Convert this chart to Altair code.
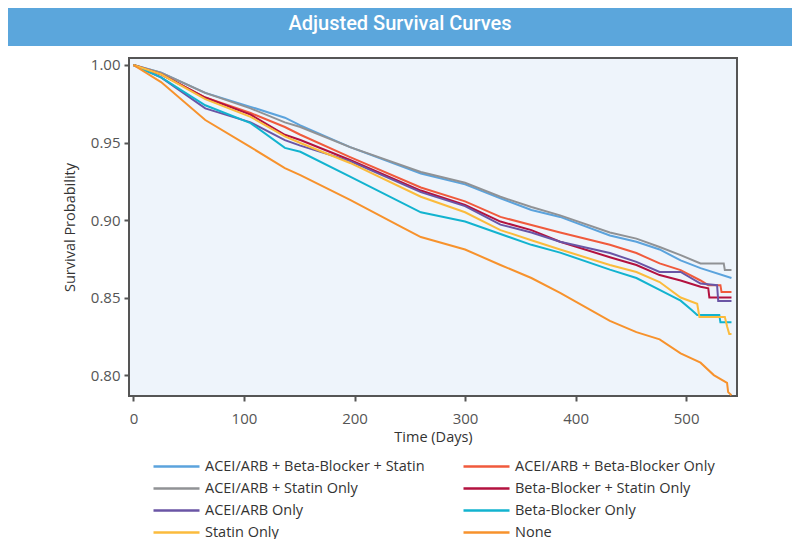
import altair as alt
import pandas as pd

TITLE = "Adjusted Survival Curves"
SERIES = [
    "ACEI/ARB + Beta-Blocker + Statin",
    "ACEI/ARB + Beta-Blocker Only",
    "ACEI/ARB + Statin Only",
    "Beta-Blocker + Statin Only",
    "ACEI/ARB Only",
    "Beta-Blocker Only",
    "Statin Only",
    "None",
]
COLORS = ["#5ba3dd", "#f05a3c", "#909295", "#b3123f", "#6a55a5", "#12b3cf", "#fbbb3c", "#f7922c"]

X_TICKS = [0, 100, 200, 300, 400, 500]
Y_TICKS = [0.80, 0.85, 0.90, 0.95, 1.00]

days_abs = [0, 25, 65, 106, 137, 151, 196, 260, 300, 332, 360, 386, 431, 455, 476, 495, 513, 541]
surv_abs = [1.0, 0.995, 0.982, 0.973, 0.966, 0.961, 0.947, 0.930, 0.923, 0.914, 0.9065, 0.902, 0.890, 0.886, 0.881, 0.874, 0.869, 0.8626]

days_ab = [0, 25, 65, 106, 137, 151, 196, 260, 300, 332, 360, 386, 431, 455, 476, 495, 513, 520, 531, 532, 541]
surv_ab = [1.0, 0.994, 0.979, 0.969, 0.960, 0.955, 0.9406, 0.921, 0.912, 0.902, 0.8968, 0.892, 0.884, 0.8787, 0.872, 0.8677, 0.861, 0.858, 0.858, 0.8535, 0.8535]

days_as = [0, 25, 65, 106, 137, 151, 196, 260, 300, 332, 360, 386, 431, 455, 476, 495, 513, 534, 535, 541]
surv_as = [1.0, 0.995, 0.982, 0.972, 0.963, 0.960, 0.947, 0.931, 0.924, 0.915, 0.9084, 0.903, 0.892, 0.888, 0.8826, 0.8774, 0.872, 0.872, 0.8677, 0.8677]

days_bs = [0, 25, 65, 106, 137, 151, 196, 260, 300, 332, 360, 386, 431, 455, 476, 495, 513, 520, 521, 541]
surv_bs = [1.0, 0.994, 0.979, 0.968, 0.955, 0.9516, 0.9387, 0.919, 0.9097, 0.899, 0.8935, 0.886, 0.876, 0.871, 0.8645, 0.861, 0.857, 0.856, 0.850, 0.850]

days_a = [0, 25, 65, 106, 137, 151, 196, 260, 300, 332, 360, 386, 431, 455, 476, 495, 513, 528, 529, 541]
surv_a = [1.0, 0.992, 0.972, 0.963, 0.9515, 0.948, 0.938, 0.918, 0.909, 0.897, 0.892, 0.886, 0.8787, 0.873, 0.8665, 0.8665, 0.859, 0.858, 0.8477, 0.8477]

days_b = [0, 25, 65, 106, 137, 151, 196, 260, 300, 332, 360, 386, 431, 455, 476, 495, 505, 510, 530, 531, 541]
surv_b = [1.0, 0.992, 0.974, 0.9625, 0.9465, 0.944, 0.928, 0.905, 0.899, 0.891, 0.884, 0.879, 0.868, 0.8626, 0.855, 0.848, 0.842, 0.8387, 0.8387, 0.834, 0.834]

days_s = [0, 25, 65, 106, 137, 151, 196, 260, 300, 332, 360, 386, 431, 455, 476, 495, 510, 512, 535, 537, 539, 541]
surv_s = [1.0, 0.994, 0.978, 0.9665, 0.954, 0.9497, 0.9368, 0.915, 0.905, 0.8935, 0.887, 0.881, 0.871, 0.8665, 0.860, 0.850, 0.846, 0.8375, 0.8375, 0.8315, 0.8265, 0.8265]

days_none = [0, 25, 65, 106, 137, 151, 196, 244, 260, 300, 332, 360, 386, 431, 455, 476, 495, 513, 525, 537, 538, 541]
surv_none = [1.0, 0.989, 0.9645, 0.947, 0.9335, 0.929, 0.913, 0.895, 0.889, 0.881, 0.871, 0.8626, 0.853, 0.835, 0.8277, 0.823, 0.814, 0.808, 0.800, 0.795, 0.789, 0.787]

pairs = [
    (days_abs, surv_abs), (days_ab, surv_ab), (days_as, surv_as), (days_bs, surv_bs),
    (days_a, surv_a), (days_b, surv_b), (days_s, surv_s), (days_none, surv_none),
]

rows = []
for name, (ds, vs) in zip(SERIES, pairs):
    for i, (d, v) in enumerate(zip(ds, vs)):
        rows.append({"series": name, "day": d, "surv": v, "i": i})
df = pd.DataFrame(rows)

W, H = 608, 338

lines = alt.Chart(df).mark_line(strokeWidth=2, clip=True).encode(
    x=alt.X("day:Q", scale=alt.Scale(domain=[-4, 546], nice=False, zero=False),
            axis=alt.Axis(values=X_TICKS, title="Time (Days)", format="d",
                          labelPadding=10, titlePadding=4)),
    y=alt.Y("surv:Q", scale=alt.Scale(domain=[0.7865, 1.0045], nice=False, zero=False),
            axis=alt.Axis(values=Y_TICKS, format=".2f", title="Survival Probability",
                          labelPadding=4, titlePadding=13)),
    color=alt.Color("series:N", scale=alt.Scale(domain=SERIES, range=COLORS),
                    legend=alt.Legend(orient="none", legendX=23, legendY=399, columns=2,
                                      direction="horizontal",
                                      title=None, symbolType="M-1,0H4.75", symbolSize=256,
                                      symbolStrokeWidth=2.5, labelFontSize=14.5,
                                      labelColor="#333333", labelFont="Open Sans",
                                      labelLimit=400,
                                      columnPadding=33, rowPadding=6, padding=0,
                                      labelOffset=34)),
    order="i:Q",
)

one = pd.DataFrame({"a": [0]})
band = alt.Chart(one).mark_rect(color="#5ba6dc").encode(
    x=alt.value(-121), x2=alt.value(663), y=alt.value(-50), y2=alt.value(-12)
)
title = alt.Chart(one).mark_text(
    text=TITLE, color="white", font="Roboto", fontSize=20, fontWeight=500,
    align="center", baseline="middle"
).encode(x=alt.value(271), y=alt.value(-34))

chart = alt.layer(band, title, lines).properties(
    width=W, height=H, padding=0
).configure_view(
    stroke="#555555", strokeWidth=2, fill="#eef4fb"
).configure_axis(
    domain=False, tickColor="#555555", tickWidth=2, tickSize=5, grid=False,
    labelFont="Open Sans", labelFontSize=15, labelColor="#555555",
    titleFont="Open Sans", titleFontSize=14.5, titleFontWeight="normal", titleColor="#333333",
)

chart.save("out.html", embed_options={"renderer": "svg", "actions": False})
